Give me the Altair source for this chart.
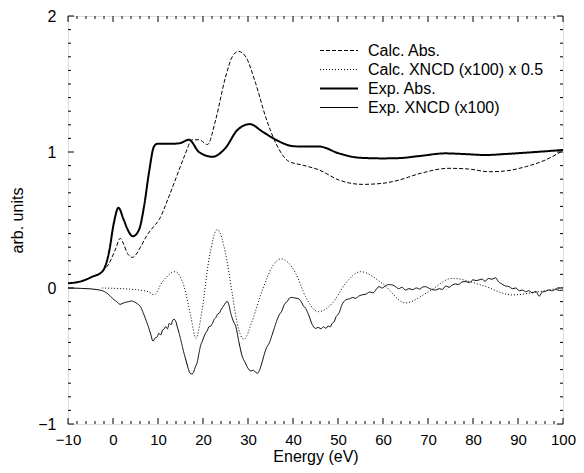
import altair as alt
import pandas as pd

series_names = ["Calc. Abs.", "Calc. XNCD (x100) x 0.5", "Exp. Abs.", "Exp. XNCD (x100)"]

calc_abs_x = [-2.4, -0.9, 0.5, 1.6, 2.4, 3.2, 4.4, 5.2, 6.1, 7.6, 9.0, 10.2, 12.4, 14.7, 16.0, 17.6,
              19.1, 21.0, 22.8, 25.0, 26.5, 27.9, 29.5, 31.7, 33.9, 36.2, 39.1, 42.1, 45.8, 50.2,
              55.4, 60.0, 63.6, 68.0, 74.7, 79.0, 83.6, 87.0, 91.7, 96.0, 100.0]
calc_abs_y = [0.12, 0.18, 0.28, 0.365, 0.32, 0.255, 0.225, 0.25, 0.30, 0.39, 0.45, 0.5, 0.67, 0.87, 0.98, 1.09,
              1.09, 1.055, 1.235, 1.55, 1.70, 1.74, 1.70, 1.505, 1.26, 1.064, 0.93, 0.904, 0.868, 0.794,
              0.762, 0.77, 0.794, 0.84, 0.88, 0.875, 0.855, 0.86, 0.892, 0.94, 1.01]

calc_xncd_x = [-2.4, 2.0, 5.8, 8.0, 9.1, 11.0, 13.8, 15.8, 17.3, 18.4, 19.8, 21.3, 23.2, 25.0, 26.5, 27.6,
               29.1, 31.0, 33.2, 35.4, 37.3, 40.6, 42.8, 45.6, 48.7, 51.7, 55.0, 60.0, 65.0, 70.0,
               75.4, 82.0, 88.7, 94.0, 100.0]
calc_xncd_y = [0.0, -0.005, -0.015, -0.03, -0.05, 0.046, 0.12, 0.01, -0.21, -0.37, -0.16, 0.206, 0.43, 0.255, -0.04, -0.26,
               -0.377, -0.235, -0.015, 0.157, 0.215, 0.108, -0.064, -0.174, -0.113, 0.035, 0.12, 0.03, -0.11, -0.03,
               0.071, 0.02, -0.051, -0.03, 0.005]

exp_abs_x = [-10.0, -7.0, -4.6, -2.4, -0.9, 0.2, 1.2, 2.4, 3.4, 4.4, 5.8, 6.9, 8.0, 9.1, 9.8, 12.4, 14.7,
             16.9, 19.1, 22.1, 25.0, 27.6, 30.4, 33.2, 36.2, 39.8, 42.0, 45.8, 50.2, 54.7, 60.0, 63.6,
             68.0, 73.9, 78.0, 82.8, 87.0, 91.7, 96.0, 100.0]
exp_abs_y = [0.035, 0.05, 0.083, 0.12, 0.26, 0.48, 0.59, 0.5, 0.42, 0.38, 0.43, 0.6, 0.85, 1.04, 1.06, 1.06, 1.064,
             1.09, 1.0, 0.965, 1.03, 1.16, 1.205, 1.15, 1.09, 1.044, 1.04, 1.04, 0.99, 0.958, 0.953, 0.955,
             0.97, 0.99, 0.985, 0.978, 0.985, 0.995, 1.005, 1.015]

exp_xncd_x = [-10, -7, -4, -2, -0.9, 0, 0.8, 1.6, 2.2, 2.8, 3.5, 4.2, 4.7, 5.4, 6.1, 6.8, 7.6, 8.3, 8.9, 9.3,
              9.8, 10.2, 10.6, 11, 11.4, 11.7, 12.1, 12.5, 12.9, 13.3, 13.6, 14, 14.4, 14.7, 15.2, 15.7, 16.2,
              16.7, 17.1, 17.5, 17.9, 18.3, 18.7, 19.1, 19.5, 19.8, 20.2, 20.6, 21, 21.3, 21.7, 22.1, 22.5,
              22.9, 23.3, 23.6, 24, 24.4, 24.8, 25.1, 25.4, 25.8, 26.2, 26.7, 27.3, 28, 28.7, 29.4, 30, 30.6,
              31.2, 31.7, 32.1, 32.6, 33.1, 33.6, 34.1, 34.7, 35.3, 35.9, 36.4, 36.9, 37.5, 38.1, 38.7, 39.2,
              39.8, 40.2, 40.7, 41.3, 41.8, 42.3, 42.8, 43.5, 44.3, 45, 45.6, 46.2, 46.8, 47.3, 47.8, 48.3,
              48.7, 49.1, 49.6, 50.2, 50.8, 51.7, 52.5, 53.3, 53.9, 54.6, 55.4, 56.2, 57, 57.8, 58.5, 59.1,
              59.8, 60.5, 61.2, 62.1, 62.8, 63.5, 64.2, 65, 65.8, 66.6, 67.4, 68.2, 68.7, 69.4, 70.1, 70.8,
              71.7, 72.5, 73.2, 74, 74.7, 75.4, 76.1, 76.8, 77.6, 78.4, 79.2, 80, 80.7, 81.3, 82, 82.7, 83.4,
              84.2, 85, 85.7, 86.4, 87.2, 88, 88.8, 89.5, 90.3, 91, 91.7, 92.4, 93.2, 94, 94.7, 95.4, 96.1,
              96.8, 97.6, 98.4, 99.2, 100]
exp_xncd_y = [0.0, -0.003, -0.01, -0.025, -0.05, -0.08, -0.1, -0.12, -0.112, -0.105, -0.1, -0.095, -0.102, -0.115,
              -0.137, -0.19, -0.26, -0.33, -0.39, -0.37,
              -0.36, -0.333, -0.345, -0.31, -0.3, -0.284, -0.3, -0.26, -0.27, -0.235, -0.23, -0.25, -0.3, -0.333,
              -0.4, -0.47, -0.53,
              -0.59, -0.625, -0.632, -0.62, -0.58, -0.55, -0.48, -0.42, -0.395, -0.36, -0.33, -0.31, -0.285,
              -0.28, -0.26, -0.23,
              -0.215, -0.19, -0.186, -0.16, -0.14, -0.12, -0.105, -0.1, -0.13, -0.19, -0.24, -0.285, -0.4, -0.5,
              -0.55, -0.59, -0.61,
              -0.605, -0.62, -0.627, -0.6, -0.55, -0.49, -0.44, -0.407, -0.35, -0.29, -0.24, -0.2, -0.17, -0.12,
              -0.1, -0.075,
              -0.069, -0.072, -0.075, -0.08, -0.1, -0.13, -0.15, -0.2, -0.27, -0.297, -0.29, -0.3, -0.285, -0.297,
              -0.28, -0.285,
              -0.26, -0.25, -0.21, -0.186, -0.13, -0.088, -0.08, -0.07, -0.076, -0.06, -0.05, -0.045, -0.03,
              -0.035, -0.01, 0.01,
              0.0, 0.015, 0.025, 0.022, 0.01, -0.005, 0.005, -0.015, -0.005, -0.012, 0.0, -0.008, 0.005, 0.01,
              0.0, -0.01,
              -0.015, -0.005, -0.01, 0.015, 0.005, 0.022, 0.03, 0.025, 0.045, 0.047, 0.04, 0.06, 0.055, 0.059,
              0.065, 0.05, 0.07,
              0.065, 0.075, 0.045, 0.03, 0.015, 0.01, -0.005, 0.0, -0.02, -0.015, -0.027, -0.02, -0.035, -0.025,
              -0.06, -0.03, -0.025,
              -0.015, -0.02, -0.01, -0.018, -0.015]

x_major = [-10, 0, 10, 20, 30, 40, 50, 60, 70, 80, 90, 100]
x_minor = [-8, -6, -4, -2, 2, 4, 6, 8, 12, 14, 16, 18, 22, 24, 26, 28, 32, 34, 36, 38, 42, 44, 46, 48,
           52, 54, 56, 58, 62, 64, 66, 68, 72, 74, 76, 78, 82, 84, 86, 88, 92, 94, 96, 98]
y_major = [-1, 0, 1, 2]
y_minor = [-0.9, -0.8, -0.7, -0.6, -0.5, -0.4, -0.3, -0.2, -0.1, 0.1, 0.2, 0.3, 0.4, 0.5, 0.6, 0.7, 0.8, 0.9,
           1.1, 1.2, 1.3, 1.4, 1.5, 1.6, 1.7, 1.8, 1.9]

assert len(exp_xncd_x) == len(exp_xncd_y)
assert len(calc_xncd_x) == len(calc_xncd_y)
assert len(calc_abs_x) == len(calc_abs_y)
assert len(exp_abs_x) == len(exp_abs_y)

rows = []
for name, xs, ys in [(series_names[0], calc_abs_x, calc_abs_y),
                     (series_names[1], calc_xncd_x, calc_xncd_y),
                     (series_names[2], exp_abs_x, exp_abs_y),
                     (series_names[3], exp_xncd_x, exp_xncd_y)]:
    for i, (x, y) in enumerate(zip(xs, ys)):
        rows.append({"energy": x, "value": y, "series": name, "order": i})
df = pd.DataFrame(rows)

W, H = 495, 408
FONT = "Liberation Sans"
FS = 16
x_scale = alt.Scale(domain=[-10, 100], nice=False, zero=False)
y_scale = alt.Scale(domain=[-1, 2], nice=False, zero=False)

x_axis = alt.Axis(values=x_major, title="Energy (eV)", ticks=False, domain=False, grid=False,
                  labelFlush=False, labelOverlap=False,
                  labelPadding=8, labelFontSize=15, titleFontSize=FS, labelFont=FONT, titleFont=FONT,
                  titleFontWeight="normal", labelColor="black", titleColor="black", titlePadding=1)
y_axis = alt.Axis(values=y_major, title="arb. units", ticks=False, domain=False, grid=False,
                  labelFlush=False, labelOverlap=False,
                  labelPadding=12, labelFontSize=FS, titleFontSize=FS, labelFont=FONT, titleFont=FONT,
                  titleFontWeight="normal", labelColor="black", titleColor="black", titlePadding=12)

leg = alt.Legend(title=None, orient="none", legendX=251, legendY=25, symbolType="stroke",
                 symbolSize=1444, symbolStrokeColor="black", labelFontSize=FS, labelFont=FONT,
                 labelColor="black", labelOffset=9, rowPadding=0, clipHeight=19, labelLimit=0)

lines = alt.Chart(df).mark_line(interpolate="monotone", color="black").encode(
    x=alt.X("energy:Q", scale=x_scale, axis=x_axis),
    y=alt.Y("value:Q", scale=y_scale, axis=y_axis),
    strokeDash=alt.StrokeDash("series:O", scale=alt.Scale(type="ordinal", domain=series_names,
                                                          range=[[4, 2], [1, 2], [1, 0], [1, 0]]), legend=leg),
    strokeWidth=alt.StrokeWidth("series:O", scale=alt.Scale(type="ordinal", domain=series_names,
                                                            range=[1, 1, 2, 1]), legend=leg),
    order="order:Q",
    detail="series:N",
)


def xticks(vals, length, top):
    y0, y1 = (0, length) if top else (H, H - length)
    return alt.Chart(pd.DataFrame({"energy": vals})).mark_rule(color="black", strokeWidth=1).encode(
        x=alt.X("energy:Q", scale=x_scale, axis=x_axis), y=alt.value(y0), y2=alt.value(y1))


def yticks(vals, length, right):
    x0, x1 = (W, W - length) if right else (0, length)
    return alt.Chart(pd.DataFrame({"value": vals})).mark_rule(color="black", strokeWidth=1).encode(
        y=alt.Y("value:Q", scale=y_scale, axis=y_axis), x=alt.value(x0), x2=alt.value(x1))


tick_layers = [xticks(x_major, 6, False), xticks(x_major, 6, True), xticks(x_minor, 3, False), xticks(x_minor, 3, True),
               yticks(y_major, 6, False), yticks(y_major, 6, True), yticks(y_minor, 3, False), yticks(y_minor, 3, True)]

chart = alt.layer(lines, *tick_layers).properties(
    width=W, height=H,
    autosize=alt.AutoSizeParams(type="none"),
    padding={"left": 60, "top": 8, "right": 13, "bottom": 41},
).configure_view(stroke="black", strokeWidth=1).configure(background="white")

chart.save("out.html", embed_options={"renderer": "svg", "actions": False})
